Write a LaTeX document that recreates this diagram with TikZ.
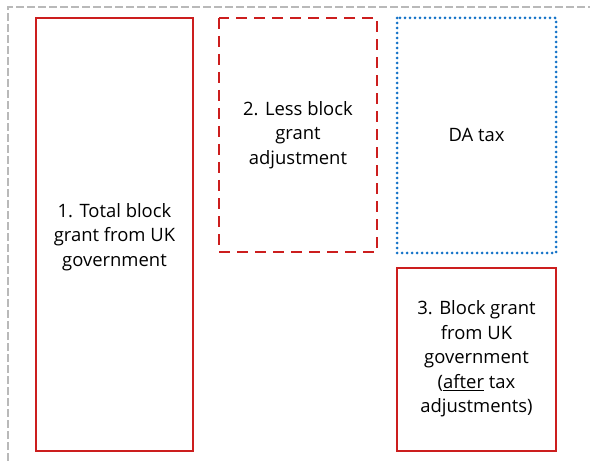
\documentclass[tikz,border=0pt]{standalone}
\usepackage{fontspec}
\setmainfont{Open Sans}
\definecolor{boxred}{RGB}{204,30,30}
\definecolor{dotblue}{RGB}{20,115,200}
\definecolor{framegray}{RGB}{185,185,185}
\begin{document}
\begin{tikzpicture}[x=1bp,y=-1bp,
  every node/.style={font=\fontsize{18.5}{24.5}\selectfont, align=center, inner sep=0pt},
  solidbox/.style={draw=boxred, line width=2.7bp},
  dashbox/.style={draw=boxred, line width=2.7bp, dash pattern=on 11bp off 7bp},
  dotbox/.style={draw=dotblue, line width=3bp, line cap=round, dash pattern=on 0bp off 5bp},
  frameline/.style={draw=framegray, line width=2.2bp, dash pattern=on 8bp off 3bp}]
\useasboundingbox (0,0) rectangle (590,461);
\draw[frameline] (8,461) -- (8,7) -- (590,7);
\draw[solidbox] (36,18) rectangle (193,451);
\node (a) at (114.5,237) {1. Total block\\grant from UK\\government};
\draw[dashbox] (219,18) rectangle (377,252);
\node (b) at (298,135) {2. Less block\\grant\\adjustment};
\draw[dotbox] (397,18) rectangle (556,253);
\node (c) at (476.5,135) {DA tax};
\draw[solidbox] (397,268) rectangle (556,451);
\node (d) at (476.5,359) {3. Block grant\\from UK\\government\\(\underline{after} tax\\adjustments)};
\end{tikzpicture}
\end{document}
